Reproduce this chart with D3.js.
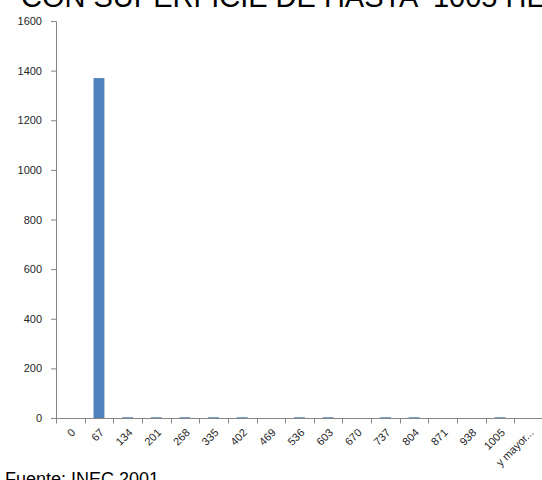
<!DOCTYPE html>
<html><head><meta charset="utf-8">
<script src="https://cdn.jsdelivr.net/npm/d3@7"></script>
<style>body{margin:0;background:#fff;overflow:hidden}svg{display:block}</style>
</head><body>
<script>
const categories = ["0","67","134","201","268","335","402","469","536","603","670","737","804","871","938","1005","y mayor..."];
const values = [0,1370,3,3,3,3,3,0,3,3,0,3,3,0,0,3,0];
const yTicks = [0,200,400,600,800,1000,1200,1400,1600];
const titleText = "CON SUPERFICIE DE HASTA  1005 HECTÁREAS";
const sourceText = "Fuente: INEC 2001";

const W = 542, H = 480;
const svg = d3.select("body").append("svg").attr("width", W).attr("height", H);
const x0 = 56, x1 = 543, yTop = 21, yBot = 418;

const x = d3.scaleBand().domain(categories).range([x0, x1]).paddingInner(0.62).paddingOuter(0.31);
const xAxisScale = d3.scaleBand().domain(categories).range([x0, x1]);
const y = d3.scaleLinear().domain([0,1600]).range([yBot, yTop]);

svg.selectAll("rect.bar").data(values).enter().append("rect")
  .attr("x", (d,i) => x(categories[i]))
  .attr("width", x.bandwidth())
  .attr("y", d => y(d))
  .attr("height", d => yBot - y(d))
  .attr("fill", "#4f81bd");

// Y axis
const yAxis = svg.append("g").attr("transform", `translate(${x0},0)`)
  .call(d3.axisLeft(y).tickValues(yTicks).tickFormat(d3.format("d")).tickSize(5).tickPadding(9));
yAxis.select(".domain").attr("stroke", "#868686").attr("d", `M-5,${yTop}.5H0.5V${yBot}`);
yAxis.selectAll(".tick line").attr("stroke", "#868686");
yAxis.selectAll("text").attr("fill", "#262626").style("font-family", "'Liberation Sans', Arial, sans-serif").style("font-size", "11px");

// X axis
const xg = svg.append("g").attr("transform", `translate(0,${yBot}.5)`);
xg.append("line").attr("x1", x0).attr("x2", x1).attr("stroke", "#868686");
const bounds = categories.map(c => xAxisScale(c)).concat([x1]);
xg.selectAll("line.tk").data(bounds).enter().append("line")
  .attr("x1", d => Math.round(d)+0.5).attr("x2", d => Math.round(d)+0.5)
  .attr("y1", 0).attr("y2", 5).attr("stroke", "#868686");
xg.selectAll("text").data(categories).enter().append("text")
  .attr("transform", d => `translate(${xAxisScale(d)+xAxisScale.bandwidth()/2+3},12) rotate(-45)`)
  .attr("text-anchor", "end")
  .attr("dy", "0.35em")
  .attr("fill", "#262626")
  .style("font-family", "'Liberation Sans', Arial, sans-serif")
  .style("font-size", "11px")
  .text(d => d);

svg.append("text").attr("x", 21).attr("y", 7)
  .attr("xml:space", "preserve").style("white-space", "pre")
  .style("font-family", "'Liberation Sans', Arial, sans-serif").style("font-size", "29px")
  .attr("fill", "#000").text(titleText);

svg.append("text").attr("x", 5).attr("y", 485)
  .style("font-family", "'Liberation Sans', Arial, sans-serif").style("font-size", "18px")
  .attr("fill", "#000").text(sourceText);
</script>
</body></html>
